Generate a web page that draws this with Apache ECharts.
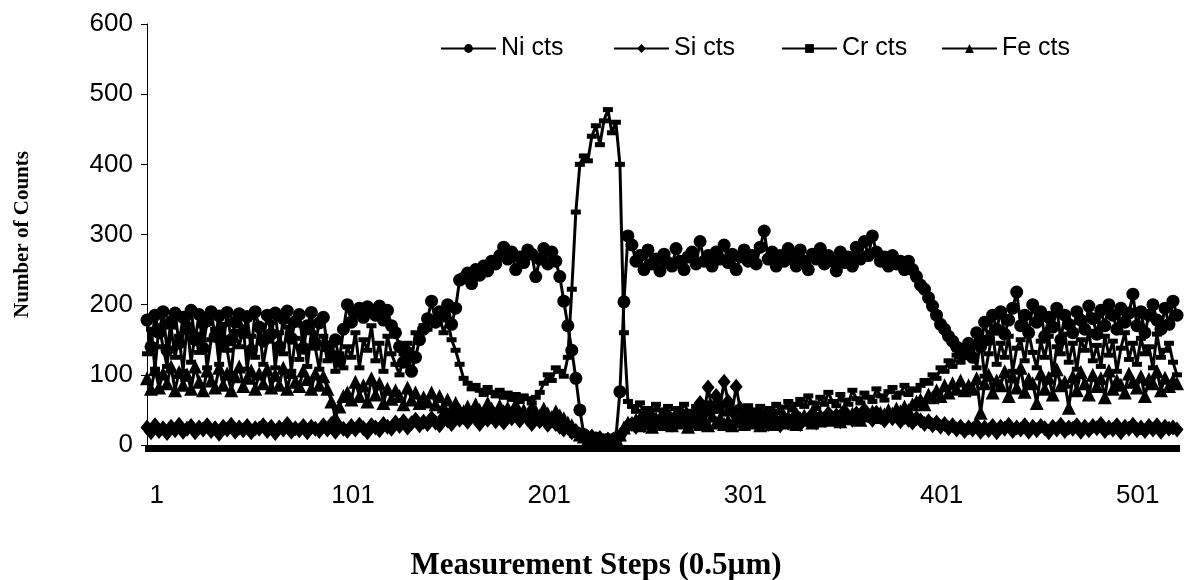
<!DOCTYPE html>
<html>
<head>
<meta charset="utf-8"/>
<title>Number of Counts</title>
<script type="text/javascript" src="https://cdn.jsdelivr.net/npm/echarts/dist/echarts.min.js"></script>
<style type="text/css">
	body { margin: 0; padding: 0; background: #fff; }
	#chart { width: 1187px; height: 580px; }
</style>
</head>
<body>
<div id="chart"></div>
<script type="text/javascript">
	var steps = [];
	for (var s = 1; s <= 515; s += 2) { steps.push(s); }

	// x tick labels; in the picture they sit a little off the data steps
	var tickLabels = ['1', '101', '201', '301', '401', '501'];

	var niCts = [
		178,140,185,160,190,135,176,188,145,182,165,192,150,186,138,177,190,155,184,142,189,150,175,187,160,183,135,190,168,148,185,158,188,140,180,191,152,176,186,138,170,189,145,174,182,
		140,128,150,120,165,
		200,175,188,195,182,197,190,185,198,178,192,170,160,
		140,118,132,105,125,150,165,
		180,205,175,190,185,200,172,195,
		235,
		238,245,230,250,242,255,248,262,258,270,282,265,275,250,268,260,278,272,240,265,280,258,275,262,
		240,205,170,135,95,50,
		15,8,5,10,6,3,8,5,10,
		76,204,298,
		285,262,270,250,278,258,265,248,272,260,255,280,262,250,268,275,258,290,262,270,
		255,275,265,285,260,272,250,268,278,262,270,258,282,305,265,275,255,270,262,280,
		268,255,278,262,250,272,265,280,258,270,262,248,275,260,268,255,282,265,290,270,
		298,275,262,268,255,270,258,262,250,262,250,240,
		228,222,210,198,185,172,165,155,148,140,136,130,145,
		125,160,140,175,150,185,165,190,158,178,
		195,218,170,185,160,200,175,190,155,182,
		168,195,150,185,172,160,190,178,165,198,
		180,158,192,170,200,185,165,195,175,188,
		215,170,190,160,185,200,178,165,195,172,205,185
	];

	var siCts = [
		25,18,28,20,24,17,26,21,29,19,23,27,18,25,22,28,20,24,16,26,22,29,19,25,21,27,18,24,23,28,20,26,17,25,22,30,19,24,21,27,18,26,23,20,28,
		22,30,19,26,23,
		20,27,22,29,24,18,28,25,21,30,26,23,32,
		27,34,25,31,36,28,33,
		30,38,32,28,40,35,30,42,
		36,
		40,33,45,38,30,42,36,48,34,40,32,44,38,46,35,42,37,30,40,34,38,29,35,30,
		26,22,25,18,20,15,
		14,10,12,8,10,6,8,5,10,
		12,20,28,
		30,26,35,28,33,38,30,36,32,40,29,35,42,34,38,31,40,
		60,45,82,50,70,55,90,62,48,83,52,40,45,
		38,32,42,35,30,40,34,28,38,32,36,42,30,38,35,44,32,40,36,45,38,42,34,48,40,36,45,38,50,42,36,46,40,35,44,38,42,34,40,36,32,38,
		35,30,34,28,32,26,30,24,28,22,26,20,25,
		22,28,19,25,21,27,18,26,23,29,20,25,22,28,19,26,21,27,24,18,26,22,29,20,25,23,28,19,26,21,27,24,30,20,25,22,28,18,26,23,29,21,25,20,27,22,28,19,26,23,25,22
	];

	var crCts = [
		130,165,108,170,140,112,168,125,155,105,172,118,158,132,170,110,150,165,115,172,135,102,162,140,168,108,155,125,170,115,148,175,110,160,130,168,105,152,122,170,112,160,138,108,155,
		120,145,105,130,110,
		140,125,160,110,150,135,170,120,145,105,155,130,115,
		100,130,145,120,160,150,170,
		165,180,172,185,160,178,150,135,
		115,
		95,88,80,85,78,72,82,75,70,78,68,74,65,72,62,70,66,60,68,75,88,100,92,110,
		105,98,125,222,332,400,
		412,405,440,455,428,462,478,445,460,
		400,160,62,
		55,48,60,45,52,42,58,50,44,55,40,52,46,58,48,42,55,50,45,60,52,48,56,44,58,50,46,54,48,56,
		50,45,55,42,52,48,58,46,54,62,50,58,65,55,70,60,52,68,58,75,62,56,72,64,58,78,66,60,74,68,62,80,70,64,76,82,68,74,85,72,80,78,
		85,92,88,100,95,110,105,120,112,128,118,135,125,
		140,110,150,98,130,160,115,145,125,155,105,138,150,120,160,132,110,148,125,155,100,140,130,158,118,145,108,150,135,162,120,142,112,155,128,148,105,138,160,122,145,115,152,130,140,110,158,125,135,145,118,100
	];

	var feCts = [
		95,80,108,82,102,88,112,78,104,86,100,80,112,90,78,106,92,82,110,86,102,78,98,112,84,96,106,80,102,88,108,82,100,86,110,80,104,90,84,106,94,80,102,86,98,
		80,62,40,55,70,
		75,65,90,70,85,62,95,72,88,60,80,66,78,
		70,58,82,65,75,60,68,
		62,75,58,70,55,65,52,60,
		50,
		48,55,42,58,50,45,60,52,44,56,48,53,42,58,46,50,44,55,48,42,52,45,40,48,
		42,38,32,28,20,15,
		12,8,10,6,9,5,8,6,10,
		15,25,32,
		30,36,28,40,32,26,38,34,30,42,28,35,32,38,26,40,34,30,36,28,42,32,38,30,35,28,40,34,30,36,32,38,28,42,34,30,38,36,32,40,34,30,38,42,36,32,40,35,38,44,36,40,34,42,38,45,40,36,44,42,48,40,46,44,50,45,52,48,55,50,58,62,
		65,58,72,68,78,70,85,75,88,80,92,78,85,
		80,95,46,88,100,75,92,85,105,70,98,82,110,76,94,88,60,102,80,96,72,108,85,90,53,98,78,104,88,72,100,84,95,68,106,80,92,86,75,102,90,82,98,70,94,88,105,78,96,84,92,88
	];

	var seriesNames = ['Ni cts', 'Si cts', 'Cr cts', 'Fe cts'];
	var legendLeft = [435, 608, 776, 936];

	// label-only axis: 106 slots, labels every 20 slots starting at slot 1
	var labelSlots = [];
	for (var j = 0; j < 106; j++) { labelSlots.push(''); }
	for (var k = 0; k < tickLabels.length; k++) { labelSlots[1 + 20 * k] = tickLabels[k]; }

	function makeSeries(name, data, symbol, size) {
		return {
			name: name,
			type: 'line',
			data: data,
			symbol: symbol,
			symbolSize: size,
			showAllSymbol: true,
			lineStyle: { color: '#000', width: 3 },
			itemStyle: { color: '#000' },
			emphasis: { disabled: true }
		};
	}

	var legends = [];
	for (var n = 0; n < seriesNames.length; n++) {
		legends.push({
			data: [seriesNames[n]],
			left: legendLeft[n],
			top: 31,
			itemWidth: 55,
			itemHeight: 11,
			textStyle: { fontFamily: 'Liberation Sans', fontSize: 25, color: '#000' }
		});
	}

	var myChart = echarts.init(document.getElementById('chart'));
	var option = {
		animation: false,
		backgroundColor: '#fff',
		grid: { left: 147, right: 10, top: 24, bottom: 135 },
		legend: legends,
		xAxis: [
			{
				type: 'category',
				data: steps,
				boundaryGap: false,
				axisLine: { lineStyle: { color: '#000', width: 1 } },
				axisTick: { interval: 0, length: 7, lineStyle: { color: '#000', width: 5 } },
				axisLabel: { show: false },
				splitLine: { show: false }
			},
			{
				type: 'category',
				data: labelSlots,
				position: 'bottom',
				boundaryGap: false,
				axisLine: { show: false },
				axisTick: { show: false },
				axisLabel: { interval: 0, margin: 38, fontFamily: 'Liberation Sans', fontSize: 26, color: '#000' },
				splitLine: { show: false }
			}
		],
		yAxis: {
			type: 'value',
			min: 0,
			max: 600,
			interval: 100,
			name: 'Number of Counts',
			nameLocation: 'middle',
			nameGap: 114,
			nameTextStyle: { fontFamily: 'Liberation Serif', fontWeight: 'bold', fontSize: 21, color: '#000' },
			axisLine: { show: true, lineStyle: { color: '#000', width: 1 } },
			axisTick: { show: true, length: 6, lineStyle: { color: '#000' } },
			axisLabel: { margin: 14, fontFamily: 'Liberation Sans', fontSize: 26, color: '#000' },
			splitLine: { show: false }
		},
		graphic: [{
			type: 'text',
			x: 596,
			y: 550,
			style: {
				text: 'Measurement Steps (0.5\u00b5m)',
				align: 'center',
				fontFamily: 'Liberation Serif',
				fontWeight: 'bold',
				fontSize: 31,
				fill: '#000'
			}
		}],
		series: [
			makeSeries(seriesNames[0], niCts, 'circle', 13),
			makeSeries(seriesNames[1], siCts, 'diamond', [13, 16]),
			makeSeries(seriesNames[2], crCts, 'rect', [10, 5]),
			makeSeries(seriesNames[3], feCts, 'triangle', 14)
		]
	};
	myChart.setOption(option);
</script>
</body>
</html>
